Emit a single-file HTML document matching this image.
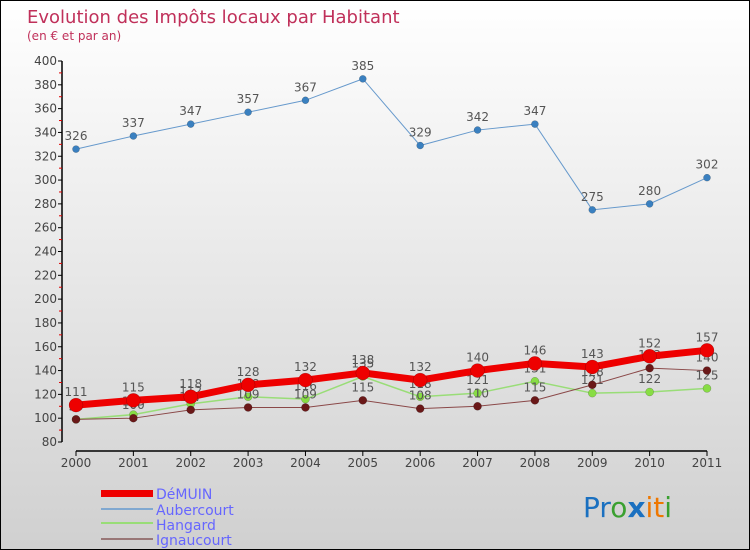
<!DOCTYPE html>
<html><head><meta charset="utf-8"><style>
body{margin:0}
#c{width:750px;height:550px;position:relative;box-sizing:border-box;border:1px solid #000;background:linear-gradient(#ffffff,#d0d0d0);overflow:hidden;font-family:"DejaVu Sans","Liberation Sans",sans-serif}
svg text{font-family:"DejaVu Sans","Liberation Sans",sans-serif}
</style></head><body>
<div id="c">
<svg id="s" width="750" height="550">
<text x="26" y="22" font-size="18" fill="#c0305a">Evolution des Impôts locaux par Habitant</text>
<text x="26" y="39" font-size="12" fill="#c0305a">(en € et par an)</text>
<g id="ax"></g><g id="ser"></g>
<g>
<rect x="100" y="489" width="52" height="7" fill="#ee0000"/>
<text x="155" y="498" font-size="14" fill="#6666ff">DéMUIN</text>
<line x1="100" y1="508" x2="152" y2="508" stroke="#80a8d0" stroke-width="2"/>
<text x="155" y="514" font-size="14" fill="#6666ff">Aubercourt</text>
<line x1="100" y1="522" x2="152" y2="522" stroke="#99dd77" stroke-width="2"/>
<text x="155" y="529" font-size="14" fill="#6666ff">Hangard</text>
<line x1="100" y1="538" x2="152" y2="538" stroke="#997777" stroke-width="2"/>
<text x="155" y="544" font-size="14" fill="#6666ff">Ignaucourt</text>
</g>
<g font-size="28" font-family="Liberation Sans">
<text x="582" y="516"><tspan fill="#1a70c0">Pr</tspan><tspan fill="#3aa030">o</tspan><tspan fill="#1a70c0" font-weight="bold">x</tspan><tspan fill="#ee7700">it</tspan><tspan fill="#3aa030">i</tspan></text>
</g>
</svg></div>
<script>
const years=["2000","2001","2002","2003","2004","2005","2006","2007","2008","2009","2010","2011"];
const yTicks=[80,100,120,140,160,180,200,220,240,260,280,300,320,340,360,380,400];
const demuin=[111,115,118,128,132,138,132,140,146,143,152,157];
const aubercourt=[326,337,347,357,367,385,329,342,347,275,280,302];
const hangard=[99,103,112,118,116,135,118,121,131,121,122,125];
const ignaucourt=[99,100,107,109,109,115,108,110,115,128,142,140];
const NS="http://www.w3.org/2000/svg";
const X=i=>75+i*(706-75)/11;
const Y=v=>441-(v-80)*(381/320);
function mk(t,a,p){const e=document.createElementNS(NS,t);for(const k in a)e.setAttribute(k,a[k]);p.appendChild(e);return e;}
const ax=document.getElementById('ax');
mk('line',{x1:61,y1:60,x2:61,y2:441,stroke:'#000','stroke-width':1.5},ax);
yTicks.forEach(v=>{
 const t=mk('line',{x1:57,y1:Y(v),x2:61,y2:Y(v),stroke:'#000'},ax);
 
 
 const l=mk('text',{x:56,y:Y(v)+4,'font-size':12,fill:'#444','text-anchor':'end'},ax);l.textContent=v;
 
 
 if(v<400){mk('line',{x1:58,y1:Y(v+10),x2:61,y2:Y(v+10),stroke:'#d00'},ax);}
});
mk('line',{x1:X(0),y1:450,x2:X(11),y2:450,stroke:'#000','stroke-width':1.5},ax);
years.forEach((y,i)=>{
 mk('line',{x1:X(i),y1:450,x2:X(i),y2:455,stroke:'#000'},ax);
 const l=mk('text',{x:X(i),y:466,'font-size':12,fill:'#444','text-anchor':'middle'},ax);l.textContent=y;
 
 
});
const ser=document.getElementById('ser');
function draw(name,data,col,w,r,dot){
 const g=mk('g',{},ser);
 
 
 mk('polyline',{points:data.map((v,i)=>X(i)+','+Y(v)).join(' '),fill:'none',stroke:col,'stroke-width':w},g);
 data.forEach((v,i)=>{
  const c=mk('circle',{cx:X(i),cy:Y(v),r:r,fill:dot,stroke:'rgba(0,0,0,0.3)','stroke-width':0.5},g);
  
  
  const t=mk('text',{x:X(i),y:Y(v)-9,'font-size':12,fill:'#555','text-anchor':'middle'},g);t.textContent=v;
  
  
 });
}
draw('hangard',hangard,'#99dd77',1.5,4,'#88dd44');
draw('ignaucourt',ignaucourt,'#8a4848',1,4,'#6a1818');
draw('aubercourt',aubercourt,'#6699cc',1,3.5,'#3a80c0');
draw('demuin',demuin,'#ee0000',7,7,'#ee0000');
</script>
</body></html>
